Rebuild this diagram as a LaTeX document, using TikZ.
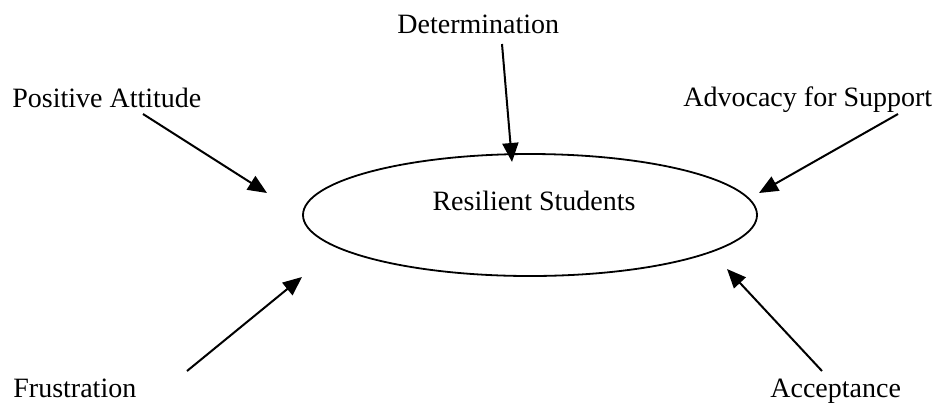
\documentclass[tikz,border=0pt]{standalone}
\usepackage{fontspec}
\setmainfont{Liberation Serif}
\usepackage{tikz}
\usetikzlibrary{shapes.geometric, arrows.meta}

\tikzset{
  factor/.style = { inner sep = 0, anchor = base west, font = \fontsize{14}{16}\selectfont },
  push/.style = { line width = 1pt, -{Triangle[length = 9.5pt, width = 8pt]} }
}

\begin{document}
\begin{tikzpicture}[x = 0.5pt, y = -0.5pt]

\useasboundingbox ( 0, 0 ) rectangle ( 935, 403 );

% Centre
\node [draw, ellipse, line width = 0.9pt, minimum width = 227pt, minimum height = 61pt, inner sep = 0] (students) at ( 530, 215 ) {};
\node [factor, anchor = base] (studentsText) at ( 534, 210 ) {Resilient Students};

% Factors
\node [factor] (determination) at ( 397, 33 ) {Determination};
\node [factor] (attitude) at ( 12, 107 ) {Positive Attitude};
\node [factor] (advocacy) at ( 683, 106 ) {Advocacy for Support};
\node [factor] (frustration) at ( 13, 397 ) {Frustration};
\node [factor] (acceptance) at ( 770, 397 ) {Acceptance};

% Arrow ends
\coordinate (determinationFrom) at ( 502, 44 );
\coordinate (determinationTo) at ( 512, 162 );
\coordinate (attitudeFrom) at ( 143, 114 );
\coordinate (attitudeTo) at ( 267, 193 );
\coordinate (advocacyFrom) at ( 898, 114 );
\coordinate (advocacyTo) at ( 759, 193 );
\coordinate (frustrationFrom) at ( 187, 371 );
\coordinate (frustrationTo) at ( 302, 277 );
\coordinate (acceptanceFrom) at ( 822, 371 );
\coordinate (acceptanceTo) at ( 727, 269 );

\draw [push] (determinationFrom) -- (determinationTo);
\draw [push] (attitudeFrom) -- (attitudeTo);
\draw [push] (advocacyFrom) -- (advocacyTo);
\draw [push] (frustrationFrom) -- (frustrationTo);
\draw [push] (acceptanceFrom) -- (acceptanceTo);

\end{tikzpicture}
\end{document}
